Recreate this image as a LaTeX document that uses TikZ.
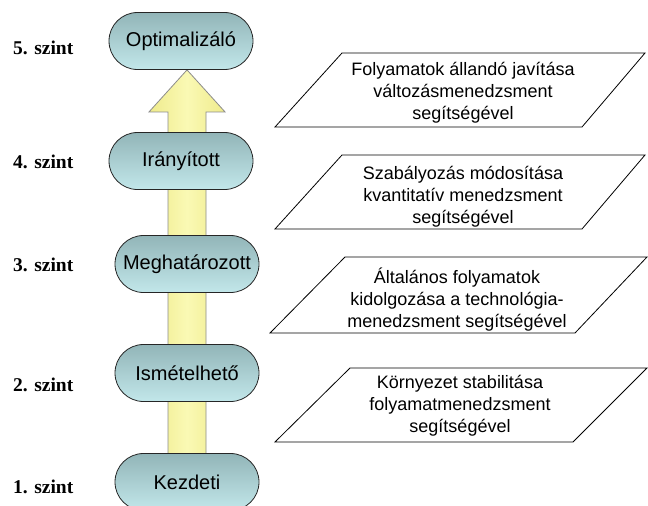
\documentclass[tikz,border=0pt]{standalone}
\usepackage{fontspec}
\setmainfont{Liberation Serif}
\newfontfamily\arialfont{Liberation Sans}
\usetikzlibrary{shapes.misc,backgrounds}

\definecolor{pilltop}{HTML}{92B5B8}
\definecolor{pillbot}{HTML}{C2E7EA}
\definecolor{arrowedge}{HTML}{EFEB8C}
\definecolor{arrowmid}{HTML}{FAF9B4}
\definecolor{arrowline}{HTML}{8C8C8C}

\begin{document}
\begin{tikzpicture}[x=1pt,y=-1pt,
  levelbox/.style={rounded rectangle, draw=black!85, line width=0.8pt,
    minimum width=144pt, minimum height=57pt, inner sep=0pt,
    top color=pilltop, bottom color=pillbot,
    font=\arialfont\fontsize{20}{24}\selectfont},
  levellabel/.style={anchor=west, inner sep=0pt,
    font=\bfseries\fontsize{19.5}{22}\selectfont},
  paratext/.style={align=center, inner sep=0pt,
    font=\arialfont\fontsize{18}{22}\selectfont},
  parabox/.style={draw=black, line width=0.8pt, fill=white},
  bigarrow/.style={draw=arrowline, line width=0.8pt,
    left color=arrowedge, right color=arrowedge, middle color=arrowmid}
]
\useasboundingbox (0,0) rectangle (648,506);

% maturity levels
\node[levelbox] (opt)  at (181,41)  {Optimalizáló};
\node[levelbox] (iran) at (181,161) {Irányított};
\node[levelbox] (megh) at (187,264) {Meghatározott};
\node[levelbox] (isme) at (187,373) {Ismételhető};
\node[levelbox] (kez)  at (187,482) {Kezdeti};

% level numbers
\node[levellabel] (l5) at (13,47.5) {5. szint};
\node[levellabel] (l4) at (13,161.5) {4. szint};
\node[levellabel] (l3) at (13,264.5) {3. szint};
\node[levellabel] (l2) at (13,385) {2. szint};
\node[levellabel] (l1) at (13,487) {1. szint};

% block arrow running behind the levels
\coordinate (tip) at (opt.south -| kez.north);
\coordinate (hb) at ([yshift=-42pt]tip);
\coordinate (base) at ([yshift=-15pt]kez.north);
\begin{scope}[on background layer]
  \path[bigarrow] ([xshift=-19pt]base) -- ([xshift=-19pt]base |- hb)
    -- ([xshift=-38pt]hb) -- (tip) -- ([xshift=38pt]hb)
    -- ([xshift=19pt]base |- hb) -- ([xshift=19pt]base) -- cycle;
\end{scope}

% descriptions
\draw[parabox] (342,53) -- (645,53) -- (582,127) -- (275,127) -- cycle;
\node[paratext] (d5) at (463,93) {Folyamatok állandó javítása\\változásmenedzsment\\segítségével};

\draw[parabox] (342,155) -- (645,155) -- (582,229) -- (275,229) -- cycle;
\node[paratext] (d4) at (463,197) {Szabályozás módosítása\\kvantitatív menedzsment\\segítségével};

\draw[parabox] (345,257) -- (647,257) -- (575,333) -- (270,333) -- cycle;
\node[paratext] (d3) at (457,300) {Általános folyamatok\\kidolgozása a technológia-\\menedzsment segítségével};

\draw[parabox] (350,368) -- (647,368) -- (573,442) -- (275,442) -- cycle;
\node[paratext] (d2) at (460,406) {Környezet stabilitása\\folyamatmenedzsment\\segítségével};
\end{tikzpicture}
\end{document}
